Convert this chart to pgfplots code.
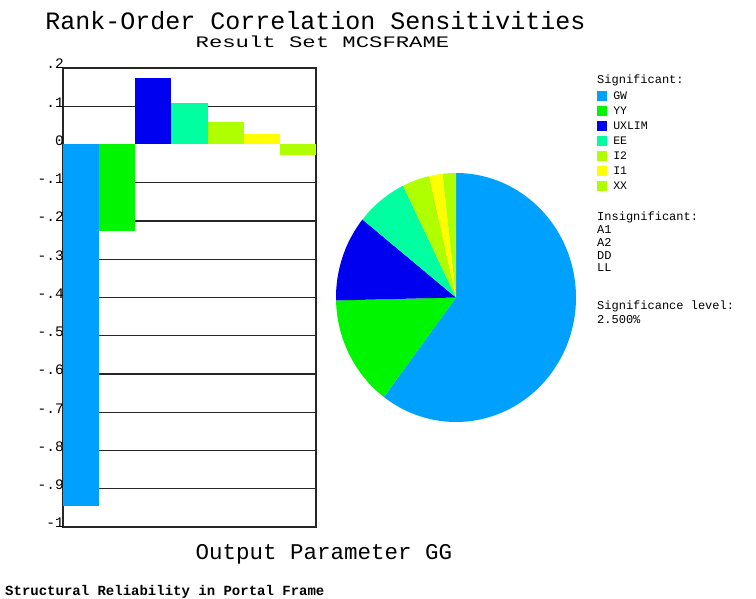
\documentclass[border=0pt]{standalone}
\usepackage{graphicx}
\usepackage{pgfplots}
\pgfplotsset{compat=1.18}
\usepackage{fontspec}
\setmainfont{Liberation Mono}
\definecolor{cGW}{RGB}{0,160,255}
\definecolor{cYY}{RGB}{0,245,0}
\definecolor{cUX}{RGB}{0,0,240}
\definecolor{cEE}{RGB}{0,255,160}
\definecolor{cI2}{RGB}{176,255,0}
\definecolor{cI1}{RGB}{255,255,0}
\definecolor{cXX}{RGB}{176,255,0}
\begin{document}
\begin{tikzpicture}[x=1pt,y=1pt]
\path[use as bounding box] (0,0) rectangle (756,599);
% pie angles from the absolute sensitivities
\pgfmathsetmacro\T{0.945+0.225+0.175+0.109+0.058+0.028+0.028}
\pgfmathsetmacro\aA{90-360*0.945/\T}
\pgfmathsetmacro\aB{\aA-360*0.225/\T}
\pgfmathsetmacro\aC{\aB-360*0.175/\T}
\pgfmathsetmacro\aD{\aC-360*0.109/\T}
\pgfmathsetmacro\aE{\aD-360*0.058/\T}
\pgfmathsetmacro\aF{\aE-360*0.028/\T}
\pgfmathsetmacro\aG{\aF-360*0.028/\T}
\begin{axis}[
  at={(63pt,72pt)}, anchor=south west,
  width=253pt, height=459pt, scale only axis,
  xmin=0.5, xmax=7.5, ymin=-1, ymax=0.2,
  xtick=\empty,
  ytick={-1,-0.9,-0.8,-0.7,-0.6,-0.5,-0.4,-0.3,-0.2,-0.1,0.1,0.2},
  yticklabels={-1,-.9,-.8,-.7,-.6,-.5,-.4,-.3,-.2,-.1,.1,.2},
  extra y ticks={0}, extra y tick labels={0},
  extra y tick style={grid=none},
  ymajorgrids,
  grid style={black!85, line width=1.2pt},
  major tick length=0pt,
  axis line style={black!85, line width=1.2pt},
  /pgf/number format/assume math mode=true,
  yticklabel style={font=\fontsize{14.5}{14.5}\selectfont, anchor=base east, inner sep=0pt, xshift=1pt, yshift=-1pt},
  legend style={at={(axis description cs:2.111,0.95)}, anchor=north west,
    draw=none, fill=none, inner sep=0pt, row sep=5pt,
    font=\fontsize{11.5}{11.5}\selectfont,
    nodes={inner sep=0pt, text height=8pt, text depth=2pt},
    /tikz/every odd column/.append style={column sep=6pt}},
  legend cell align=left,
  legend image code/.code={\fill[#1] (0pt,-5pt) rectangle (10pt,5pt);},
]
\addplot[ybar, bar width=1, fill=cGW, draw=none] coordinates {(1,-0.945)};
\addlegendentry{GW}
\addplot[ybar, bar width=1, fill=cYY, draw=none] coordinates {(2,-0.225)};
\addlegendentry{YY}
\addplot[ybar, bar width=1, fill=cUX, draw=none] coordinates {(3,0.175)};
\addlegendentry{UXLIM}
\addplot[ybar, bar width=1, fill=cEE, draw=none] coordinates {(4,0.109)};
\addlegendentry{EE}
\addplot[ybar, bar width=1, fill=cI2, draw=none] coordinates {(5,0.058)};
\addlegendentry{I2}
\addplot[ybar, bar width=1, fill=cI1, draw=none] coordinates {(6,0.028)};
\addlegendentry{I1}
\addplot[ybar, bar width=1, fill=cXX, draw=none] coordinates {(7,-0.028)};
\addlegendentry{XX}
\end{axis}
\begin{axis}[
  at={(336pt,177pt)}, anchor=south west,
  width=240pt, height=249pt, scale only axis,
  xmin=-1, xmax=1, ymin=-1, ymax=1, hide axis,
]
\addplot[fill=cGW, draw=none, domain=\aA:90, samples=120] ({cos(x)},{sin(x)}) -- (axis cs:0,0) -- cycle;
\addplot[fill=cYY, draw=none, domain=\aB:\aA, samples=40] ({cos(x)},{sin(x)}) -- (axis cs:0,0) -- cycle;
\addplot[fill=cUX, draw=none, domain=\aC:\aB, samples=40] ({cos(x)},{sin(x)}) -- (axis cs:0,0) -- cycle;
\addplot[fill=cEE, draw=none, domain=\aD:\aC, samples=30] ({cos(x)},{sin(x)}) -- (axis cs:0,0) -- cycle;
\addplot[fill=cI2, draw=none, domain=\aE:\aD, samples=20] ({cos(x)},{sin(x)}) -- (axis cs:0,0) -- cycle;
\addplot[fill=cI1, draw=none, domain=\aF:\aE, samples=10] ({cos(x)},{sin(x)}) -- (axis cs:0,0) -- cycle;
\addplot[fill=cXX, draw=none, domain=\aG:\aF, samples=10] ({cos(x)},{sin(x)}) -- (axis cs:0,0) -- cycle;
\end{axis}
\node[anchor=base, inner sep=0pt, text depth=0pt, font=\fontsize{25}{25}\selectfont] at (315.5,569) {Rank-Order Correlation Sensitivities};
\node[anchor=base, inner sep=0pt, text height=10pt, font=\fontsize{16}{16}\selectfont] at (322.5,551) {\scalebox{1.39}[1]{Result Set MCSFRAME}};
\node[anchor=base, inner sep=0pt, font=\fontsize{22.5}{22.5}\selectfont] at (324,39) {Output Parameter GG};
\node[anchor=base west, inner sep=0pt, font=\fontsize{14}{14}\selectfont\bfseries] at (5,3) {Structural Reliability in Portal Frame};
\begin{scope}[every node/.style={anchor=base west, inner sep=0pt, font=\fontsize{12}{12}\selectfont}]
\node at (597,515) {Significant:};
\node at (597,378) {Insignificant:};
\node at (597,365) {A1};
\node at (597,352) {A2};
\node at (597,339) {DD};
\node at (597,327) {LL};
\node at (597,289) {Significance level:};
\node at (597,275) {2.500\%};
\end{scope}
\end{tikzpicture}
\end{document}
